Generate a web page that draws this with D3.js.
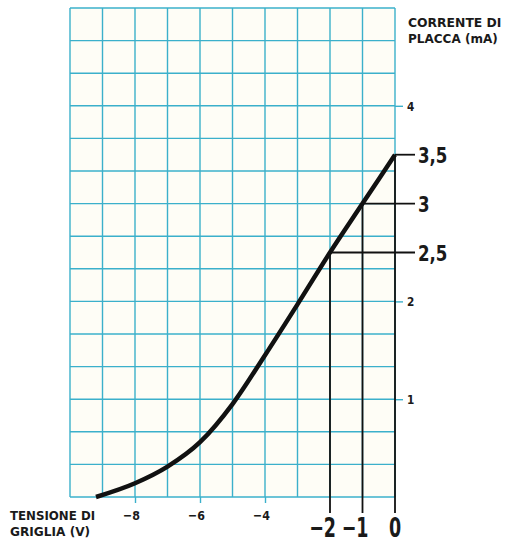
<!DOCTYPE html>
<html>
<head>
<meta charset="utf-8">
<script src="https://cdn.jsdelivr.net/npm/d3@7"></script>
<style>
  body { margin: 0; background: #fff; }
  text { font-family: "DejaVu Sans Condensed", "DejaVu Sans", sans-serif; font-weight: bold; fill: #1a1a1a; }
</style>
</head>
<body>
<div id="chart"></div>
<script>
// grid voltage (V) and plate current (mA)
var volts   = [-9.2, -8, -7, -6, -5, -4, -3, -2, -1, 0];
var current = [0, 0.14, 0.31, 0.56, 0.95, 1.45, 1.97, 2.5, 3.0, 3.5];

// highlighted working points
var markVolts   = [-2, -1, 0];
var markCurrent = [2.5, 3, 3.5];
var markYLabels = ["2,5", "3", "3,5"];
var markXLabels = ["\u22122", "\u22121", "0"];

// small tick labels
var xTicks = [-8, -6, -4];
var xTickLabels = ["\u22128", "\u22126", "\u22124"];
var yTicks = [1, 2, 4];
var yTickLabels = ["1", "2", "4"];

var width = 509, height = 543;

var x = d3.scaleLinear().domain([-10, 0]).range([70, 395]);
var y = d3.scaleLinear().domain([0, 5]).range([497, 8]);

var svg = d3.select("#chart").append("svg")
    .attr("width", width)
    .attr("height", height);

// condensed lettering: squeeze text horizontally around its anchor
function label(g, tx, ty, str, size, sx, anchor) {
  return g.append("text")
      .attr("transform", "translate(" + tx + "," + ty + ") scale(" + sx + ",1)")
      .attr("text-anchor", anchor || "start")
      .style("font-size", size + "px")
      .text(str);
}

// paper background of the grid
svg.append("rect")
    .attr("x", x(-10)).attr("y", y(5))
    .attr("width", x(0) - x(-10)).attr("height", y(0) - y(5))
    .style("fill", "#fefdf6");

var gridColor = "#3bb0cb";

// vertical grid lines, one per volt
svg.append("g").selectAll("line")
    .data(d3.range(-10, 1, 1))
    .enter().append("line")
    .attr("x1", function(d) { return x(d); })
    .attr("x2", function(d) { return x(d); })
    .attr("y1", y(5)).attr("y2", y(0))
    .style("stroke", gridColor)
    .style("stroke-width", 1.4);

// horizontal grid lines, every 1/3 mA
svg.append("g").selectAll("line")
    .data(d3.range(0, 16).map(function(i) { return i / 3; }))
    .enter().append("line")
    .attr("x1", x(-10)).attr("x2", x(0))
    .attr("y1", function(d) { return y(d); })
    .attr("y2", function(d) { return y(d); })
    .style("stroke", gridColor)
    .style("stroke-width", 1.4);

// X axis small ticks
var xAxis = svg.append("g")
    .attr("transform", "translate(0," + y(0) + ")")
    .call(d3.axisBottom(x).tickValues(xTicks).tickSize(6).tickFormat(""));
xAxis.select(".domain").remove();
xAxis.selectAll("line").style("stroke", gridColor).style("stroke-width", 1.4);

var labels = svg.append("g");
xTicks.forEach(function(d, i) {
  label(labels, x(d) + 5, 520, xTickLabels[i], 13, 0.95, "end");
});

// Y axis small ticks
var yAxis = svg.append("g")
    .attr("transform", "translate(" + x(0) + ",0)")
    .call(d3.axisRight(y).tickValues(yTicks).tickSize(8).tickFormat(""));
yAxis.select(".domain").remove();
yAxis.selectAll("line").style("stroke", gridColor).style("stroke-width", 1.4);

yTicks.forEach(function(d, i) {
  label(labels, x(0) + 12, y(d) + 5, yTickLabels[i], 13, 0.9);
});

// the characteristic curve
var pts = volts.map(function(v, i) { return [v, current[i]]; });
var line = d3.line()
    .x(function(d) { return x(d[0]); })
    .y(function(d) { return y(d[1]); })
    .curve(d3.curveMonotoneX);

svg.append("path")
    .datum(pts)
    .attr("d", line)
    .style("fill", "none")
    .style("stroke", "#111")
    .style("stroke-width", 4.5);

// projection lines from the working points
var marks = svg.append("g");
markVolts.forEach(function(v, i) {
  marks.append("line")
      .attr("x1", x(v)).attr("x2", 415)
      .attr("y1", y(markCurrent[i])).attr("y2", y(markCurrent[i]))
      .style("stroke", "#111").style("stroke-width", 1.8);
  marks.append("line")
      .attr("x1", x(v)).attr("x2", x(v))
      .attr("y1", y(markCurrent[i])).attr("y2", 513)
      .style("stroke", "#111").style("stroke-width", 1.8);
  label(marks, 418, y(markCurrent[i]) + 8, markYLabels[i], 21, 0.88);
  label(marks, v == 0 ? x(v) : x(v) + 6, 537, markXLabels[i], 27, 0.72, v == 0 ? "middle" : "end");
});

// axis titles
label(svg, 408, 27, "CORRENTE DI", 12.5, 1.1);
label(svg, 408, 43, "PLACCA (mA)", 12.5, 1.07);
label(svg, 10, 520, "TENSIONE DI", 12.5, 1.05);
label(svg, 10, 536, "GRIGLIA (V)", 12.5, 1.08);
</script>
</body>
</html>
